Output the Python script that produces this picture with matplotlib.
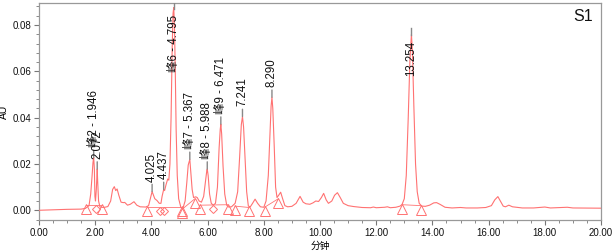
import numpy as np
import matplotlib
matplotlib.use("Agg")
import matplotlib.pyplot as plt
from matplotlib.transforms import offset_copy

# ---- data ----
t_min = [0.00, 0.50, 1.00, 1.50, 1.65, 1.78, 1.84, 1.89, 1.92, 1.946, 1.97, 1.99, 2.01,
         2.04, 2.06, 2.072, 2.09, 2.12, 2.17, 2.30, 2.45, 2.55, 2.62, 2.68, 2.73, 2.78,
         2.84, 2.92, 3.00, 3.05, 3.15, 3.25, 3.38, 3.48, 3.60, 3.80, 3.90, 3.96, 4.025,
         4.06, 4.12, 4.20, 4.28, 4.34, 4.38, 4.437, 4.47, 4.52, 4.58, 4.62, 4.66, 4.70,
         4.74, 4.77, 4.795, 4.82, 4.85, 4.88, 4.92, 4.97, 5.05, 5.12, 5.20, 5.26, 5.31,
         5.367, 5.40, 5.45, 5.50, 5.58, 5.63, 5.70, 5.78, 5.86, 5.93, 5.97, 5.988, 6.02,
         6.07, 6.13, 6.20, 6.28, 6.35, 6.41, 6.45, 6.471, 6.50, 6.55, 6.61, 6.68, 6.75,
         6.85, 6.98, 7.07, 7.14, 7.20, 7.241, 7.28, 7.33, 7.39, 7.45, 7.52, 7.60, 7.69,
         7.78, 7.88, 8.00, 8.08, 8.16, 8.22, 8.26, 8.290, 8.32, 8.37, 8.42, 8.47, 8.53,
         8.60, 8.67, 8.75, 8.85, 9.00, 9.15, 9.29, 9.40, 9.50, 9.64, 9.75, 9.85, 9.95,
         10.05, 10.13, 10.22, 10.30, 10.42, 10.52, 10.62, 10.72, 10.83, 11.00, 11.20,
         11.50, 11.80, 11.90, 12.00, 12.30, 12.40, 12.50, 12.70, 12.85, 12.92, 13.00,
         13.07, 13.14, 13.20, 13.254, 13.29, 13.34, 13.40, 13.46, 13.53, 13.62, 13.75,
         13.90, 14.05, 14.15, 14.28, 14.45, 14.70, 15.00, 15.20, 15.60, 15.90, 16.10,
         16.22, 16.33, 16.42, 16.52, 16.60, 16.72, 16.85, 17.20, 17.60, 18.00, 18.20,
         18.80, 19.00, 20.00]
au = [0.0000, 0.0002, 0.0004, 0.0005, 0.0008, 0.0020, 0.0070, 0.0150, 0.0205, 0.0228, 0.0180, 0.0060, 0.0040,
      0.0090, 0.0150, 0.0178, 0.0120, 0.0040, 0.0014, 0.0012, 0.0016, 0.0040, 0.0090, 0.0102, 0.0085, 0.0092,
      0.0065, 0.0035, 0.0033, 0.0034, 0.0022, 0.0026, 0.0037, 0.0022, 0.0015, 0.0014, 0.0020, 0.0050, 0.0081,
      0.0070, 0.0050, 0.0042, 0.0030, 0.0030, 0.0060, 0.0090, 0.0085, 0.0110, 0.0135, 0.0130, 0.0200, 0.0400,
      0.0700, 0.0850, 0.0875, 0.0800, 0.0600, 0.0350, 0.0150, 0.0050, 0.0012, 0.0008, 0.0040, 0.0120, 0.0195,
      0.0220, 0.0170, 0.0090, 0.0055, 0.0058, 0.0055, 0.0040, 0.0035, 0.0060, 0.0130, 0.0170, 0.0178, 0.0150,
      0.0070, 0.0030, 0.0022, 0.0030, 0.0100, 0.0270, 0.0350, 0.0372, 0.0330, 0.0190, 0.0070, 0.0022, 0.0014,
      0.0015, 0.0030, 0.0080, 0.0230, 0.0370, 0.0405, 0.0360, 0.0230, 0.0080, 0.0018, 0.0015, 0.0030, 0.0048,
      0.0030, 0.0015, 0.0013, 0.0040, 0.0150, 0.0330, 0.0450, 0.0488, 0.0440, 0.0280, 0.0100, 0.0055, 0.0065,
      0.0078, 0.0050, 0.0020, 0.0015, 0.0017, 0.0030, 0.0060, 0.0035, 0.0028, 0.0026, 0.0032, 0.0040, 0.0038,
      0.0055, 0.0073, 0.0045, 0.0030, 0.0040, 0.0065, 0.0076, 0.0055, 0.0030, 0.0020, 0.0016,
      0.0012, 0.0011, 0.0014, 0.0011, 0.0013, 0.0015, 0.0011, 0.0013, 0.0018, 0.0025, 0.0050,
      0.0150, 0.0400, 0.0650, 0.0760, 0.0680, 0.0450, 0.0200, 0.0080, 0.0030, 0.0018, 0.0017,
      0.0022, 0.0032, 0.0033, 0.0025, 0.0013, 0.0010, 0.0012, 0.0010, 0.0010, 0.0012, 0.0020,
      0.0045, 0.0059, 0.0040, 0.0018, 0.0015, 0.0022, 0.0015, 0.0010, 0.0010, 0.0014, 0.0010,
      0.0013, 0.0010, 0.0009]

peak_times = [1.946, 2.072, 4.025, 4.437, 4.795, 5.367, 5.988, 6.471, 7.241, 8.290, 13.254]
peak_labels = ["峰2 - 1.946", "2.072", "4.025", "4.437", "峰6 - 4.795", "峰7 - 5.367",
               "峰8 - 5.988", "峰9 - 6.471", "7.241", "8.290", "13.254"]

# integration baselines (start/end points) and drop points
base_t = [[1.67, 2.23], [3.83, 5.10], [5.10, 5.55], [5.73, 6.72], [6.97, 7.48], [8.04, 8.52], [12.92, 13.60]]
base_y = [[0.0022, 0.0022], [0.0016, 0.0016], [0.0005, 0.0050], [0.0022, 0.0024], [0.0018, 0.0012],
          [0.0014, 0.0050], [0.0024, 0.0020]]
drop_t = [2.03, 4.30, 4.46, 6.20]
drop_y = [0.0022, 0.0016, 0.0016, 0.0023]

x_ticks = [0, 2, 4, 6, 8, 10, 12, 14, 16, 18, 20]
y_ticks = [0.00, 0.02, 0.04, 0.06, 0.08]

# ---- style ----
RED = "#ff7272"
LAT = ["Liberation Sans", "Noto Sans CJK SC"]
plt.rcParams["font.family"] = LAT

fig = plt.figure(figsize=(6.14, 2.52), dpi=100)
ax = fig.add_axes([39 / 614, 1 - 220 / 252, 562 / 614, 217 / 252])
ax.set_xlim(0, 20)
ax.set_ylim(-0.0042, 0.0895)

ax.plot(t_min, au, color=RED, lw=0.8, zorder=3)

# baselines and markers
for bt, by in zip(base_t, base_y):
    ax.plot(bt, by, color=RED, lw=0.6, zorder=2)
down = offset_copy(ax.transData, fig=fig, x=0, y=-4, units="dots")
tri_t = [p for bt in base_t for p in bt]
tri_y = [p for by in base_y for p in by]
ax.plot(tri_t, tri_y, ls="none", marker="^", ms=6.5, mfc="none", mec=RED, mew=0.7,
        transform=down, zorder=4)
ax.plot(drop_t, drop_y, ls="none", marker="D", ms=4.5, mfc="none", mec=RED, mew=0.7,
        transform=down, zorder=4)

# peak labels
special = {"峰6 - 4.795": -64, "13.254": -42}
for pt, lab in zip(peak_times, peak_labels):
    h = np.interp(pt, t_min, au)
    off = special.get(lab, 10)
    if off > 0:
        ax.annotate(lab, xy=(pt, h), xytext=(0, off), textcoords="offset pixels",
                    rotation=90, ha="center", va="bottom", fontsize=8.3, color="#111111",
                    family=LAT,
                    arrowprops=dict(arrowstyle="-", color="#888888", lw=1.0,
                                    shrinkA=0, shrinkB=0), zorder=5)
    else:
        ax.annotate(lab, xy=(pt, h), xytext=(0, off), textcoords="offset pixels",
                    rotation=90, ha="center", va="bottom", fontsize=8.3, color="#111111",
                    family=LAT, zorder=5)
        up = offset_copy(ax.transData, fig=fig, x=0, y=6, units="dots")
        ax.plot([pt, pt], [h - 0.003, h], color="#888888", lw=1.0, transform=up, zorder=4)

ax.set_xticks(x_ticks)
ax.set_xticklabels([f"{v:.2f}" for v in x_ticks])
ax.set_yticks(y_ticks)
ax.set_yticklabels([f"{v:.2f}" for v in y_ticks])
ax.xaxis.set_minor_locator(matplotlib.ticker.MultipleLocator(0.5))
ax.yaxis.set_minor_locator(matplotlib.ticker.MultipleLocator(0.004))
ax.tick_params(which="major", length=3.5, width=0.8, color="#777777", labelsize=7, pad=2,
               labelcolor="#111111")
ax.tick_params(which="minor", length=2, width=0.6, color="#777777")
for s in ax.spines.values():
    s.set_color("#999999")
    s.set_linewidth(0.9)

ax.set_xlabel("分钟", fontsize=7, family=["Noto Sans CJK SC"], labelpad=2)
ax.set_ylabel("AU", fontsize=7.5)
ax.yaxis.set_label_coords((9 - 39) / 562, 0.5)
ax.text(0.986, 0.94, "S1", transform=ax.transAxes, ha="right", va="center", fontsize=11.5,
        color="#111111")

fig.savefig("out.png", dpi=100)
